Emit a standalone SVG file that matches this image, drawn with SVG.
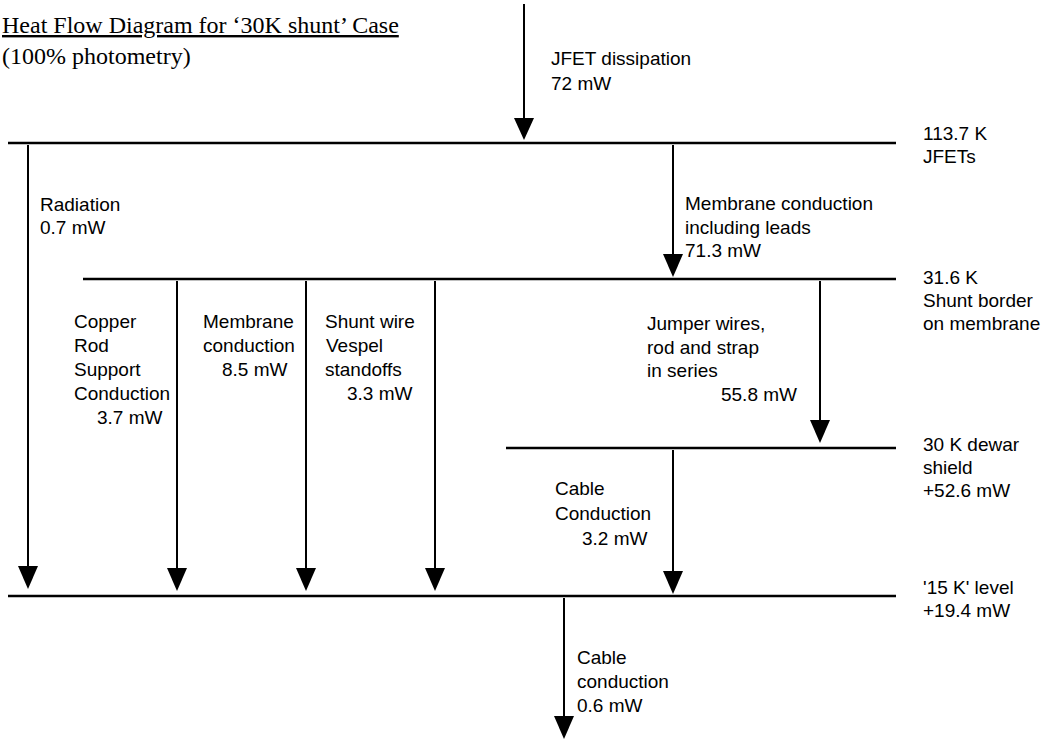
<svg xmlns="http://www.w3.org/2000/svg" width="1048" height="740" viewBox="0 0 1048 740">
<defs>
<style>
.t{font-family:"Liberation Sans",Arial,sans-serif;font-size:19px;fill:#000}
.ti{font-family:"Liberation Serif","Times New Roman",serif;font-size:24px;fill:#000}
.lvl{stroke:#000;stroke-width:2.5;fill:none}
.sh{stroke:#000;stroke-width:2;fill:none}
.hd{fill:#000;stroke:none}
</style>
</defs>
<rect width="1048" height="740" fill="#fff"/>
<g id="title">
<text class="ti" x="2" y="33" text-decoration="underline">Heat Flow Diagram for ‘30K shunt’ Case</text>
<text class="ti" x="2" y="64">(100% photometry)</text>
</g>
<g id="level-jfets">
<line class="lvl" x1="8" y1="143" x2="896" y2="143"/>
<text class="t" x="923" y="140">113.7 K</text>
<text class="t" x="923" y="163">JFETs</text>
</g>
<g id="level-shunt">
<line class="lvl" x1="83" y1="279" x2="896" y2="279"/>
<text class="t" x="923" y="284">31.6 K</text>
<text class="t" x="923" y="307">Shunt border</text>
<text class="t" x="923" y="330">on membrane</text>
</g>
<g id="level-30k">
<line class="lvl" x1="506" y1="448" x2="896" y2="448"/>
<text class="t" x="923" y="451">30 K dewar</text>
<text class="t" x="923" y="474">shield</text>
<text class="t" x="923" y="497">+52.6 mW</text>
</g>
<g id="level-15k">
<line class="lvl" x1="8" y1="596" x2="896" y2="596"/>
<text class="t" x="923" y="594">'15 K' level</text>
<text class="t" x="923" y="617">+19.4 mW</text>
</g>
<g id="connectors">
<line class="sh" x1="524" y1="4" x2="524" y2="122"/><polygon class="hd" points="514,118 534,118 524,140"/>
<line class="sh" x1="28" y1="145" x2="28" y2="570"/><polygon class="hd" points="18,566 38,566 28,589"/>
<line class="sh" x1="673" y1="145" x2="673" y2="258"/><polygon class="hd" points="663,254 683,254 673,277"/>
<line class="sh" x1="177" y1="281" x2="177" y2="572"/><polygon class="hd" points="167,568 187,568 177,591"/>
<line class="sh" x1="306" y1="281" x2="306" y2="572"/><polygon class="hd" points="296,568 316,568 306,591"/>
<line class="sh" x1="435" y1="281" x2="435" y2="572"/><polygon class="hd" points="425,568 445,568 435,591"/>
<line class="sh" x1="820" y1="281" x2="820" y2="424"/><polygon class="hd" points="810,420 830,420 820,443"/>
<line class="sh" x1="673" y1="450" x2="673" y2="575"/><polygon class="hd" points="663,571 683,571 673,594"/>
<line class="sh" x1="564" y1="598" x2="564" y2="720"/><polygon class="hd" points="554,716 574,716 564,739"/>
</g>
<g id="label-jfet">
<text class="t" x="551" y="65">JFET dissipation</text>
<text class="t" x="551" y="90">72 mW</text>
</g>
<g id="label-radiation">
<text class="t" x="40" y="211">Radiation</text>
<text class="t" x="40" y="234">0.7 mW</text>
</g>
<g id="label-membrane-leads">
<text class="t" x="685" y="210">Membrane conduction</text>
<text class="t" x="685" y="234">including leads</text>
<text class="t" x="685" y="257">71.3 mW</text>
</g>
<g id="label-copper">
<text class="t" x="74" y="328">Copper</text>
<text class="t" x="74" y="352">Rod</text>
<text class="t" x="74" y="376">Support</text>
<text class="t" x="74" y="400">Conduction</text>
<text class="t" x="97" y="424">3.7 mW</text>
</g>
<g id="label-membrane">
<text class="t" x="203" y="328">Membrane</text>
<text class="t" x="203" y="352">conduction</text>
<text class="t" x="222" y="376">8.5 mW</text>
</g>
<g id="label-shunt">
<text class="t" x="325" y="328">Shunt wire</text>
<text class="t" x="326" y="352">Vespel</text>
<text class="t" x="325" y="376">standoffs</text>
<text class="t" x="347" y="400">3.3 mW</text>
</g>
<g id="label-jumper">
<text class="t" x="647" y="330">Jumper wires,</text>
<text class="t" x="647" y="354">rod and strap</text>
<text class="t" x="647" y="377">in series</text>
<text class="t" x="797" y="401" text-anchor="end">55.8 mW</text>
</g>
<g id="label-cable1">
<text class="t" x="555" y="495">Cable</text>
<text class="t" x="555" y="520">Conduction</text>
<text class="t" x="582" y="545">3.2 mW</text>
</g>
<g id="label-cable2">
<text class="t" x="577" y="664">Cable</text>
<text class="t" x="577" y="688">conduction</text>
<text class="t" x="577" y="712">0.6 mW</text>
</g>
</svg>
